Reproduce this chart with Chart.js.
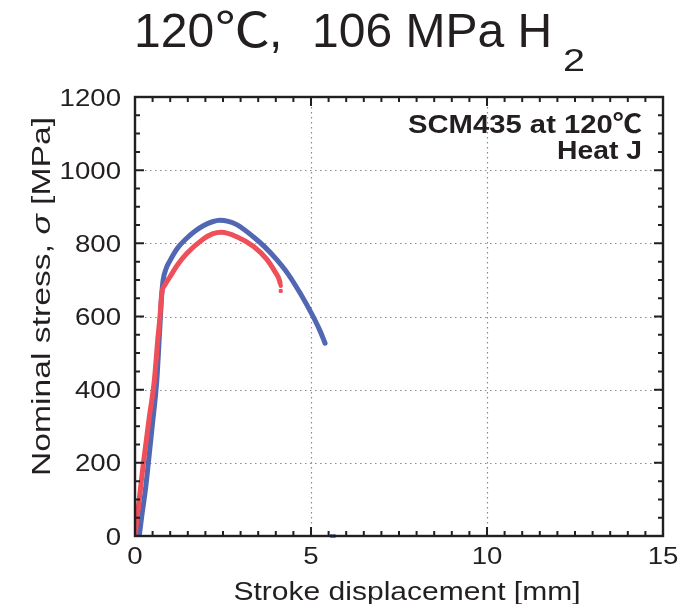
<!DOCTYPE html>
<html>
<head>
<meta charset="utf-8">
<script src="https://cdn.jsdelivr.net/npm/chart.js@4.4.1/dist/chart.umd.min.js"></script>
<style>
html,body{margin:0;padding:0;background:#fff;}
#wrap{position:relative;width:698px;height:604px;}
</style>
</head>
<body>
<div id="wrap"><canvas id="c" width="698" height="604"></canvas></div>
<script>
// ---- data ----
const titleMain = "120℃, 106 MPa H";
const titleSub = "2";
const annotLine1 = "SCM435 at 120℃";
const annotLine2 = "Heat J";
const xAxisTitle = "Stroke displacement [mm]";
const yAxisTitleA = "Nominal stress, ";
const yAxisTitleSym = "σ";
const yAxisTitleB = " [MPa]";

const xTickLabels = ["0", "5", "10", "15"];
const yTickLabels = ["0", "200", "400", "600", "800", "1000", "1200"];

const blueX = [0.12, 0.2, 0.3, 0.38, 0.5, 0.62, 0.7, 0.76, 0.8, 0.88, 0.99, 1.2, 1.47, 1.7, 1.94, 2.2, 2.41, 2.65, 2.89, 3.36, 3.7, 4.02, 4.35, 4.69, 5.02, 5.26, 5.40];
const blueY = [0, 60, 130, 200, 310, 426, 560, 660, 700, 730, 752, 786, 814, 833, 848, 859, 863, 860, 851, 818, 789, 756, 716, 664, 607, 560, 527];
const blueAfterX = [5.58, 5.66];
const blueAfterY = [0, 0];

const redX = [0, 0.12, 0.24, 0.4, 0.55, 0.65, 0.71, 0.76, 0.85, 0.99, 1.2, 1.47, 1.94, 2.2, 2.46, 2.89, 3.36, 3.74, 3.98, 4.10, 4.12];
const redY = [0, 100, 200, 320, 426, 540, 600, 663, 686, 708, 740, 772, 812, 826, 830, 818, 792, 757, 722, 700, 692];
const redEndX = [4.14, 4.14];
const redEndY = [684, 670];

// ---- styling ----
const BLUE = "#5267b3";
const RED = "#ee4f58";
const INK = "#231f20";
const FONT = "'Liberation Sans', Arial, 'Noto Sans CJK JP', sans-serif";

function pts(xs, ys) { return xs.map((x, i) => ({ x: x, y: ys[i] })); }

function txt(ctx, s, x, y, font, align, stretch) {
  ctx.save();
  ctx.font = font;
  const w = ctx.measureText(s).width * stretch;
  const x0 = align === "center" ? x - w / 2 : align === "right" ? x - w : x;
  ctx.translate(x0, y);
  ctx.scale(stretch, 1);
  ctx.textAlign = "left";
  ctx.textBaseline = "alphabetic";
  ctx.fillStyle = INK;
  ctx.fillText(s, 0, 0);
  ctx.restore();
}

function fitTxt(ctx, s, x, y, font, align, targetW) {
  ctx.save();
  ctx.font = font;
  const w = ctx.measureText(s).width;
  ctx.restore();
  txt(ctx, s, x, y, font, align, targetW / w);
}

const deco = {
  id: "deco",
  beforeDatasetsDraw(chart) {
    const ctx = chart.ctx, a = chart.chartArea;
    const xs = chart.scales.x, ys = chart.scales.y;
    ctx.save();
    ctx.strokeStyle = "#8a8a8a";
    ctx.lineWidth = 1.2;
    ctx.setLineDash([1.5, 3.5]);
    xTickLabels.forEach(l => {
      const v = Number(l);
      if (v <= xs.min || v >= xs.max) return;
      const px = Math.round(xs.getPixelForValue(v)) + 0.5;
      ctx.beginPath(); ctx.moveTo(px, a.top); ctx.lineTo(px, a.bottom); ctx.stroke();
    });
    yTickLabels.forEach(l => {
      const v = Number(l);
      if (v <= ys.min || v >= ys.max) return;
      const py = Math.round(ys.getPixelForValue(v)) + 0.5;
      ctx.beginPath(); ctx.moveTo(a.left, py); ctx.lineTo(a.right, py); ctx.stroke();
    });
    ctx.restore();
  },
  afterDatasetsDraw(chart) {
    const ctx = chart.ctx, a = chart.chartArea;
    const xs = chart.scales.x, ys = chart.scales.y;
    ctx.save();
    ctx.strokeStyle = INK;
    ctx.lineWidth = 2;
    for (let v = xs.min; v <= xs.max + 1e-9; v += 0.5) {
      const major = Math.abs(v / 5 - Math.round(v / 5)) < 1e-6;
      const L = major ? 9 : 5;
      const px = xs.getPixelForValue(v);
      ctx.beginPath();
      ctx.moveTo(px, a.bottom); ctx.lineTo(px, a.bottom - L);
      ctx.moveTo(px, a.top); ctx.lineTo(px, a.top + L);
      ctx.stroke();
    }
    for (let v = ys.min; v <= ys.max + 1e-9; v += 50) {
      const major = Math.abs(v / 200 - Math.round(v / 200)) < 1e-6;
      const L = major ? 9 : 5;
      const py = ys.getPixelForValue(v);
      ctx.beginPath();
      ctx.moveTo(a.left, py); ctx.lineTo(a.left + L, py);
      ctx.moveTo(a.right, py); ctx.lineTo(a.right - L, py);
      ctx.stroke();
    }
    ctx.lineWidth = 2.4;
    ctx.strokeRect(a.left, a.top, a.right - a.left, a.bottom - a.top);
    ctx.restore();

    const tf = "24px " + FONT;
    yTickLabels.forEach(l => {
      const py = ys.getPixelForValue(Number(l));
      txt(ctx, l, a.left - 14, py + 8.5, tf, "right", 1.15);
    });
    xTickLabels.forEach(l => {
      const px = xs.getPixelForValue(Number(l));
      txt(ctx, l, px, 564, tf, "center", 1.15);
    });

    fitTxt(ctx, xAxisTitle, 407, 600, "26px " + FONT, "center", 347);

    ctx.save();
    const fN = "26px " + FONT, fI = "italic 26px " + FONT;
    ctx.font = fN; const wA = ctx.measureText(yAxisTitleA).width, wB = ctx.measureText(yAxisTitleB).width;
    ctx.font = fI; const wS = ctx.measureText(yAxisTitleSym).width;
    const tot = wA + wS + wB;
    const s = 359 / tot;
    ctx.translate(50, 296.5);
    ctx.rotate(-Math.PI / 2);
    ctx.scale(s, 1);
    ctx.fillStyle = INK;
    ctx.textBaseline = "alphabetic";
    ctx.textAlign = "left";
    let x0 = -tot / 2;
    ctx.font = fN; ctx.fillText(yAxisTitleA, x0, 0); x0 += wA;
    ctx.font = fI; ctx.fillText(yAxisTitleSym, x0, 0); x0 += wS;
    ctx.font = fN; ctx.fillText(yAxisTitleB, x0, 0);
    ctx.restore();

    fitTxt(ctx, annotLine1, 642, 133, "bold 26px " + FONT, "right", 234);
    fitTxt(ctx, annotLine2, 642, 159, "bold 26px " + FONT, "right", 85);

    const parts = titleMain.split(",");
    const tfont = "48px " + FONT;
    const degIdx = parts[0].indexOf("℃");
    txt(ctx, parts[0].slice(0, degIdx), 134, 47, tfont, "left", 1.0);
    fitTxt(ctx, "℃", 215, 47, tfont, "left", 55);
    txt(ctx, ",", 269, 47, tfont, "left", 1.0);
    txt(ctx, parts[1].trim(), 312, 47, tfont, "left", 1.0);
    fitTxt(ctx, titleSub, 563, 71, "31px " + FONT, "left", 22);
  }
};

new Chart(document.getElementById("c"), {
  type: "scatter",
  data: {
    datasets: [
      { label: "red", data: pts(redX, redY), showLine: true, borderColor: RED, backgroundColor: RED,
        borderWidth: 5, pointRadius: 0, cubicInterpolationMode: "monotone", borderCapStyle: "round", borderJoinStyle: "round" },
      { label: "redEnd", data: pts(redEndX, redEndY), showLine: false, borderColor: RED, backgroundColor: RED,
        pointRadius: 2.2, borderWidth: 0 },
      { label: "blue", data: pts(blueX, blueY), showLine: true, borderColor: BLUE, backgroundColor: BLUE,
        borderWidth: 5, pointRadius: 0, cubicInterpolationMode: "monotone", borderCapStyle: "round", borderJoinStyle: "round" },
      { label: "blueAfter", data: pts(blueAfterX, blueAfterY), showLine: false, borderColor: BLUE, backgroundColor: BLUE,
        pointRadius: 2, borderWidth: 0, clip: false }
    ]
  },
  options: {
    responsive: false,
    devicePixelRatio: 1,
    animation: false,
    events: [],
    layout: { padding: { top: 97, right: 35, bottom: 0, left: 0 } },
    plugins: { legend: { display: false }, tooltip: { enabled: false }, title: { display: false } },
    scales: {
      x: {
        type: "linear", min: 0, max: 15,
        ticks: { display: false, stepSize: 5 },
        grid: { display: false }, border: { display: false },
        afterFit(scale) { scale.height = 68; }
      },
      y: {
        type: "linear", min: 0, max: 1200,
        ticks: { display: false, stepSize: 200 },
        grid: { display: false }, border: { display: false },
        afterFit(scale) { scale.width = 135; }
      }
    }
  },
  plugins: [deco]
});
</script>
</body>
</html>
